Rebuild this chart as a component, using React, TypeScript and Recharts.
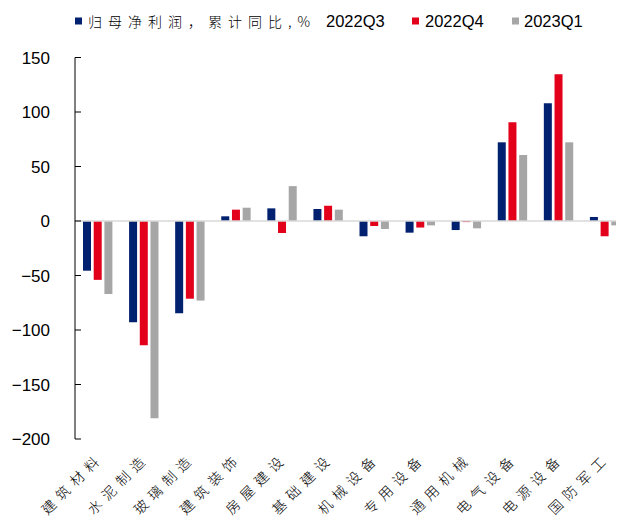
import React from 'react';
import { BarChart, Bar, XAxis, YAxis, ReferenceLine, Legend } from 'recharts';

// Industry categories on the x axis
const categories = [
  '建筑材料', '水泥制造', '玻璃制造', '建筑装饰', '房屋建设', '基础建设',
  '机械设备', '专用设备', '通用机械', '电气设备', '电源设备', '国防军工',
];

// Cumulative YoY growth of net profit attributable to parent, %
const q3_2022 = [-45.6, -93, -84.7, 4.3, 11.6, 11, -14, -10.7, -8.3, 72.2, 108, 3.7];
const q4_2022 = [-54, -114, -71.3, 10.4, -11, 14, -4.6, -6, -1, 90.5, 134.6, -14];
const q1_2023 = [-67, -181, -73, 12.2, 32, 10.4, -7.3, -4, -6.7, 60.5, 72.2, -4];

const seriesNames = ['2022Q3', '2022Q4', '2023Q1'];
const seriesKeys = ['q3_2022', 'q4_2022', 'q1_2023'];
const seriesColors = ['#002070', '#E3001B', '#A6A6A6'];
const legendPrefix = '归母净利润，累计同比,%';

const yTicks = [-200, -150, -100, -50, 0, 50, 100, 150];

const data = categories.map((name, i) => ({
  name,
  q3_2022: q3_2022[i],
  q4_2022: q4_2022[i],
  q1_2023: q1_2023[i],
}));

const CJK = '"Noto Sans CJK SC", "Noto Sans", sans-serif';
const LATIN = '"Liberation Sans", Arial, sans-serif';

const formatY = (v: number) => (v < 0 ? `\u2212${Math.abs(v)}` : `${v}`);

const CategoryTick = (props: any) => {
  const { x, y, payload } = props;
  return (
    <g transform={`translate(${x + 6},${y + 12})`}>
      <text
        x={0}
        y={0}
        textAnchor="end"
        transform="rotate(-45)"
        fontFamily={CJK}
        fontSize={14}
        fontWeight={300}
        letterSpacing={6}
        fill="#000"
      >
        {payload.value}
      </text>
    </g>
  );
};

const LegendContent = () => {
  const items = [
    { sq: 67, tx: 318, prefix: true },
    { sq: 404, tx: 417, prefix: false },
    { sq: 504, tx: 516, prefix: false },
  ];
  return (
    <div style={{ height: 49.5 }}>
      <svg width={616} height={49.5} style={{ display: 'block' }}>
        {items.map((it, i) => (
          <g key={seriesNames[i]}>
            <rect x={it.sq} y={9.5} width={7} height={7} fill={seriesColors[i]} />
            {it.prefix && (
              <text x={80} y={19} fontFamily={CJK} fontSize={14} fontWeight={300} letterSpacing={6} fill="#000">
                {legendPrefix}
              </text>
            )}
            <text x={it.tx} y={19} fontFamily={LATIN} fontSize={16.5} fill="#000">
              {seriesNames[i]}
            </text>
          </g>
        ))}
      </svg>
    </div>
  );
};

export default function App() {
  return (
    <div style={{ width: 616, height: 508, overflow: 'hidden' }}>
      <BarChart
        width={621}
        height={508}
        data={data}
        margin={{ top: 0, right: 1, bottom: 0, left: 0 }}
        barSize={8}
        barGap={2.7}
      >
        <Legend verticalAlign="top" align="left" content={<LegendContent />} />
        <XAxis
          dataKey="name"
          interval={0}
          axisLine={false}
          tickLine={false}
          height={77}
          tick={<CategoryTick />}
        />
        <YAxis
          width={67}
          domain={[-200, 150]}
          ticks={yTicks}
          interval={0}
          tickFormatter={formatY}
          axisLine={{ stroke: '#000', strokeWidth: 1 }}
          tickLine={{ stroke: '#000', strokeWidth: 1 }}
          tickSize={-6}
          tickMargin={31}
          tick={{ fill: '#000', fontSize: 17, fontFamily: LATIN }}
        />
        {seriesKeys.map((k, i) => (
          <Bar key={k} dataKey={k} name={seriesNames[i]} fill={seriesColors[i]} isAnimationActive={false} />
        ))}
        <ReferenceLine y={0} stroke="#D9D9D9" strokeWidth={1.5} />
      </BarChart>
    </div>
  );
}
